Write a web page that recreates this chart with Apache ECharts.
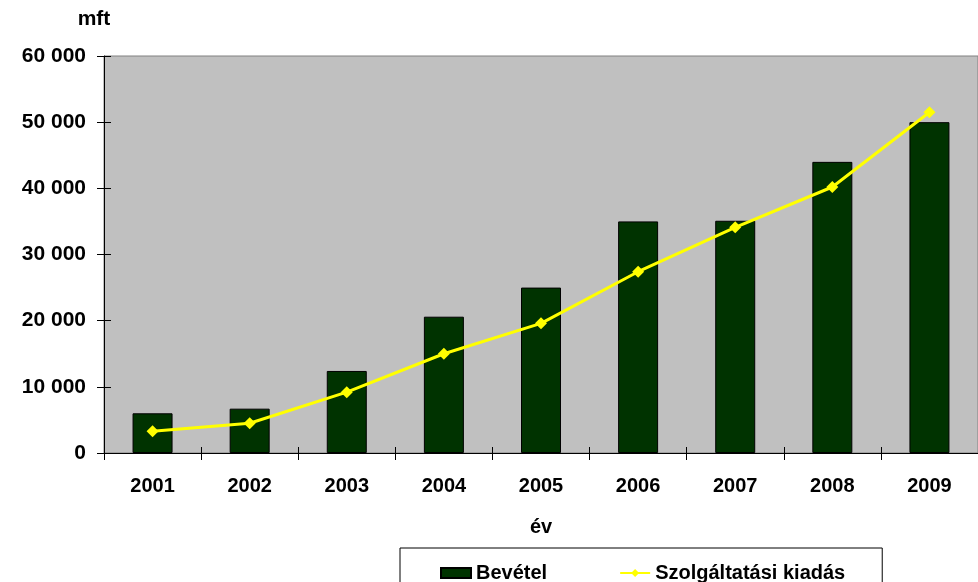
<!DOCTYPE html>
<html>
<head>
<meta charset="utf-8">
<script src="https://cdn.jsdelivr.net/npm/echarts@6/dist/echarts.min.js"></script>
<style>
html,body{margin:0;padding:0;background:#fff;}
#chart{width:978px;height:582px;}
</style>
</head>
<body>
<div id="chart"></div>
<script>
const years = ['2001','2002','2003','2004','2005','2006','2007','2008','2009'];
const bevetel = [6000, 6700, 12400, 20600, 25000, 35000, 35100, 44000, 50000];
const kiadas = [3300, 4500, 9200, 15000, 19600, 27400, 34100, 40200, 51500];
const seriesNames = ['Bevétel', 'Szolgáltatási kiadás'];
const yTicks = { min: 0, max: 60000, interval: 10000 };

const FONT = 'Liberation Sans, Arial, sans-serif';
const fmt = v => String(v).replace(/\B(?=(\d{3})+(?!\d))/g, ' ');

const chart = echarts.init(document.getElementById('chart'), null, {renderer: 'canvas'});
chart.setOption({
  backgroundColor: '#ffffff',
  animation: false,
  textStyle: { fontFamily: FONT },
  grid: {
    left: 104, right: -2, top: 56, bottom: 129,
    show: true, backgroundColor: '#c0c0c0', borderColor: '#808080', borderWidth: 1
  },
  legend: {
    data: [{ name: seriesNames[0], icon: 'rect' }, { name: seriesNames[1] }],
    left: 400, top: 548,
    orient: 'horizontal',
    padding: [15, 37, 40, 40],
    itemGap: 72,
    itemWidth: 30, itemHeight: 10,
    borderColor: '#000', borderWidth: 1,
    backgroundColor: '#fff',
    textStyle: { fontFamily: FONT, fontWeight: 'bold', fontSize: 20, color: '#000' }
  },
  xAxis: [{
    type: 'category', data: years,
    name: 'év', nameLocation: 'middle', nameGap: 64,
    nameTextStyle: { fontFamily: FONT, fontWeight: 'bold', fontSize: 20, color: '#000' },
    axisLine: { lineStyle: { color: '#000', width: 1 } },
    axisTick: { show: true, length: 7, lineStyle: { color: '#000' } },
    axisLabel: { margin: 23, fontFamily: FONT, fontWeight: 'bold', fontSize: 20, color: '#000' },
    splitLine: { show: false }
  }, {
    type: 'category', data: years, position: 'bottom',
    axisLine: { show: false },
    axisTick: { show: true, inside: true, length: 6, lineStyle: { color: '#000' } },
    axisLabel: { show: false }, splitLine: { show: false }
  }],
  yAxis: [{
    type: 'value', min: yTicks.min, max: yTicks.max, interval: yTicks.interval,
    name: 'mft', nameLocation: 'end', nameGap: 26,
    nameTextStyle: { fontFamily: FONT, fontWeight: 'bold', fontSize: 21, color: '#000', align: 'center', padding: [0, 20, 0, 0] },
    axisLine: { show: true, lineStyle: { color: '#000', width: 1 } },
    axisTick: { show: true, length: 7, lineStyle: { color: '#000' } },
    axisLabel: { margin: 18, formatter: fmt, fontFamily: FONT, fontWeight: 'bold', fontSize: 21, color: '#000' },
    splitLine: { show: false }
  }, {
    type: 'value', min: yTicks.min, max: yTicks.max, interval: yTicks.interval, position: 'left',
    axisLine: { show: false },
    axisTick: { show: true, inside: true, length: 7, lineStyle: { color: '#000' } },
    axisLabel: { show: false }, splitLine: { show: false }
  }],
  series: [{
    name: seriesNames[0], type: 'bar', data: bevetel,
    barWidth: 40,
    itemStyle: { color: '#003300', borderColor: '#000', borderWidth: 1 }
  }, {
    name: seriesNames[1], type: 'line', data: kiadas,
    symbol: 'diamond', symbolSize: 12,
    lineStyle: { color: '#ffff00', width: 3 },
    itemStyle: { color: '#ffff00' }
  }]
});
</script>
</body>
</html>
